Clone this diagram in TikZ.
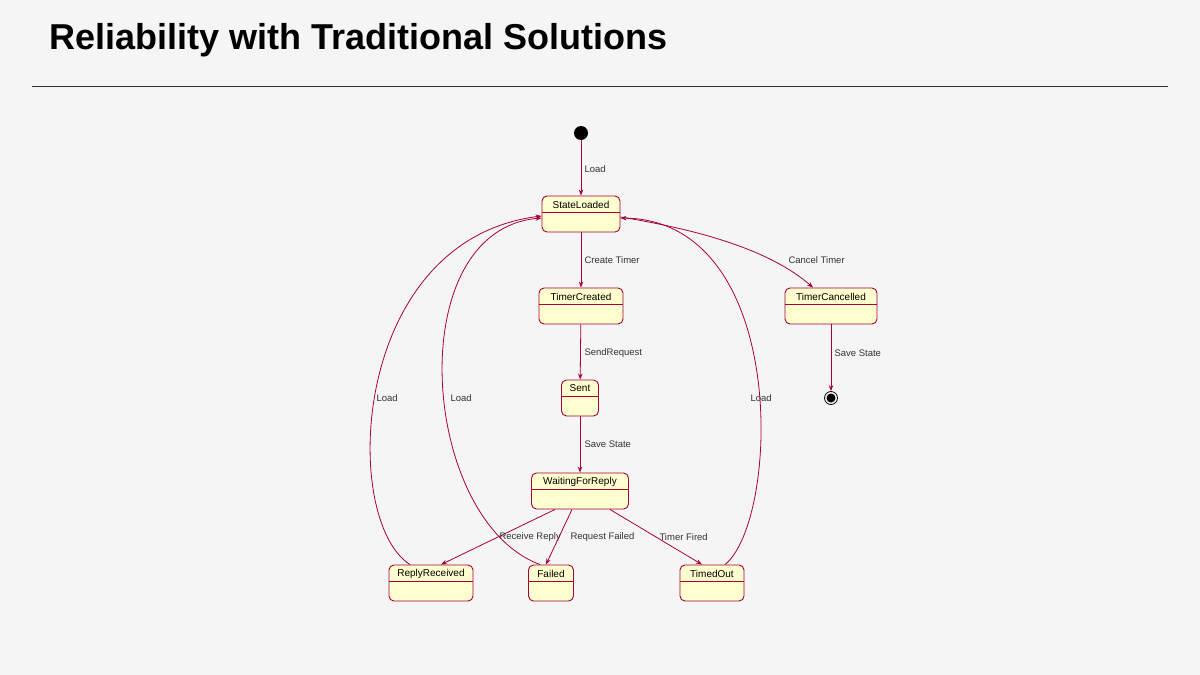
\documentclass[tikz,border=0pt]{standalone}
\usepackage{fontspec}
\setmainfont{Liberation Sans}
\usetikzlibrary{arrows.meta}
\definecolor{bd}{HTML}{A80036}
\definecolor{fl}{HTML}{FEFECE}
\begin{document}
\begin{tikzpicture}[x=1pt,y=-1pt,
 st/.style={draw=bd,fill=fl,rounded corners=5pt,line width=0.9pt,minimum height=36pt,inner sep=0pt},
 ed/.style={draw=bd,line width=0.8pt,-{Stealth[length=6pt,width=4.5pt]}},
 lb/.style={font=\fontsize{9.5}{10}\selectfont,text=black!80,anchor=west}]
\fill[black!4] (0,0) rectangle (1200,675);
\node[anchor=west,font=\bfseries\fontsize{36}{38}\selectfont] (title) at (46,40) {Reliability with Traditional Solutions};
\draw[black!80,line width=0.8pt] (32,86) -- (1168,86);
\fill[black] (581,133) circle (7);
\coordinate (init) at (581,140);
\node[st,minimum width=78pt] (sl) at (581,214) {};
\node[st,minimum width=84pt] (tc) at (581,306) {};
\node[st,minimum width=37pt] (se) at (580,398) {};
\node[st,minimum width=97pt] (wr) at (580,491) {};
\node[st,minimum width=92pt] (tx) at (831,306) {};
\node[st,minimum width=84pt] (rr) at (431,583) {};
\node[st,minimum width=45pt] (fa) at (551,583) {};
\node[st,minimum width=64pt] (to) at (712,583) {};
\foreach \n/\t in {sl/StateLoaded,tc/TimerCreated,se/Sent,wr/WaitingForReply,tx/TimerCancelled,rr/ReplyReceived,fa/Failed,to/TimedOut}{
 \draw[bd,line width=0.8pt] ([yshift=-17]\n.north west) -- ([yshift=-17]\n.north east);
 \node[font=\fontsize{10}{10}\selectfont] at ([yshift=-9]\n.north) {\t};}
\node[circle,draw=black,line width=0.8pt,minimum size=13pt,inner sep=0pt] (fin) at (831,398) {};
\fill (831,398) circle (4.5);
\draw[ed] (init) -- (sl.north);
\node[lb] (l1) at (581,169) {Load};
\draw[ed] (sl) -- (tc);
\node[lb] (l2) at (581,260) {Create Timer};
\draw[ed] (tc) -- (se);
\node[lb] (l3) at (581,353) {SendRequest};
\draw[ed] (se) -- (wr);
\node[lb] (l4) at (581,444) {Save State};
\draw[ed] (tx) -- (fin);
\node[lb] (l5) at (831,353) {Save State};
\draw[ed] ([yshift=-3]sl.east) .. controls (700,230) and (770,250) .. ([xshift=-18]tx.north);
\node[lb] (l6) at (785,260) {Cancel Timer};
\draw[ed] ([xshift=-25]wr.south) -- ([xshift=10]rr.north);
\node[lb] (l7) at (496,537) {Receive Reply};
\draw[ed] ([xshift=-8]wr.south) -- ([xshift=-5]fa.north);
\node[lb] (l8) at (567,537) {Request Failed};
\draw[ed] ([xshift=30]wr.south) -- ([xshift=-10]to.north);
\node[lb] (l9) at (656,537) {Timer Fired};
\draw[ed] ([xshift=-21]rr.north) .. controls (340,520) and (350,240) .. ([yshift=-2]sl.west);
\node[lb] (l10) at (373,398) {Load};
\draw[ed] ([xshift=-11]fa.north) .. controls (420,520) and (400,230) .. ([yshift=-4]sl.west);
\node[lb] (l11) at (447,398) {Load};
\draw[ed] ([xshift=13]to.north) .. controls (780,520) and (790,220) .. ([yshift=-4]sl.east);
\node[lb] (l12) at (747,398) {Load};
\end{tikzpicture}
\end{document}
